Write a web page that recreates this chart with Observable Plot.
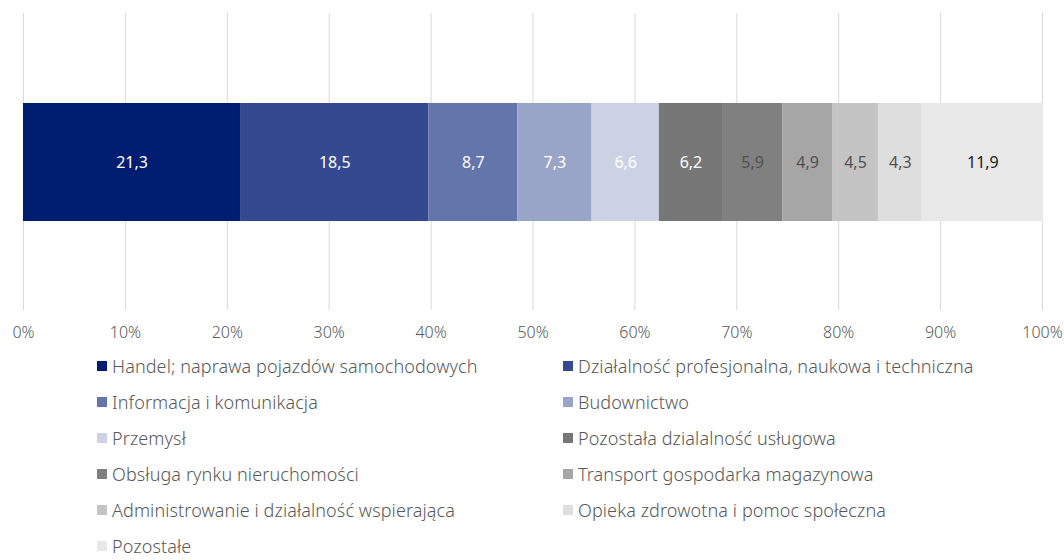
<!DOCTYPE html>
<html>
<head>
<meta charset="utf-8">
<script src="https://cdn.jsdelivr.net/npm/d3@7"></script>
<script src="https://cdn.jsdelivr.net/npm/@observablehq/plot@0.6"></script>
<style>
  html, body { margin: 0; padding: 0; background: #fff; }
  body { width: 1064px; height: 560px; position: relative; overflow: hidden; font-family: "Noto Sans", sans-serif; }
  #chart { position: absolute; left: 0; top: 0; }
  #legend { position: absolute; left: 97px; top: 348px; display: grid; grid-template-columns: 466px 460px; grid-auto-rows: 36px; }
  .item { display: flex; align-items: center; font-size: 18px; line-height: 18px; font-weight: 300; color: #595959; white-space: nowrap; letter-spacing: 0.1px; }
  .sw { width: 10px; height: 10px; margin-right: 5px; flex: none; }
</style>
</head>
<body>
<div id="chart"></div>
<div id="legend"></div>
<script>
const categories = [
  "Handel; naprawa pojazdów samochodowych",
  "Działalność profesjonalna, naukowa i techniczna",
  "Informacja i komunikacja",
  "Budownictwo",
  "Przemysł",
  "Pozostała dzialalność usługowa",
  "Obsługa rynku nieruchomości",
  "Transport gospodarka magazynowa",
  "Administrowanie i działalność wspierająca",
  "Opieka zdrowotna i pomoc społeczna",
  "Pozostałe"
];
const values = [21.3, 18.5, 8.7, 7.3, 6.6, 6.2, 5.9, 4.9, 4.5, 4.3, 11.9];
const colors = ["#001e71", "#334a91", "#6475ab", "#99a5c8", "#ccd2e4", "#777777", "#808080", "#a6a6a6", "#c4c4c4", "#dedede", "#e8e8e8"];
const labelColors = ["#ffffff", "#ffffff", "#ffffff", "#ffffff", "#ffffff", "#ffffff", "#505050", "#505050", "#505050", "#505050", "#1a1a1a"];
const xTicks = [0, 10, 20, 30, 40, 50, 60, 70, 80, 90, 100];

const fmt = v => v.toFixed(1).replace(".", ",");
const data = categories.map((c, i) => ({cat: c, value: values[i], group: "", color: colors[i], lc: labelColors[i]}));

const chart = Plot.plot({
  width: 1064,
  height: 345,
  marginLeft: 23,
  marginRight: 22,
  marginTop: 13,
  marginBottom: 35,
  x: {domain: [0, 100], label: null},
  y: {domain: [""], padding: 0.43, axis: null},
  color: {type: "identity"},
  style: {fontFamily: "'Noto Sans', sans-serif", fontSize: "15px", background: "#fff"},
  marks: [
    Plot.gridX(xTicks, {stroke: "#d9d9d9", strokeOpacity: 1, strokeWidth: 1}),
    Plot.barX(data, Plot.stackX({x: "value", y: "group", fill: "color", order: null})),
    Plot.text(data, Plot.stackX({x: "value", y: "group", order: null, text: d => fmt(d.value), fill: "lc", fontSize: 16, fontWeight: 400})),
    Plot.axisX(xTicks, {tickSize: 0, tickPadding: 16, tickFormat: d => d + "%", fontSize: 16, fill: "#595959", fontWeight: 300, label: null})
  ]
});
document.getElementById("chart").appendChild(chart);

const legend = document.getElementById("legend");
categories.forEach((c, i) => {
  const item = document.createElement("div");
  item.className = "item";
  const sw = document.createElement("span");
  sw.className = "sw";
  sw.style.background = colors[i];
  const t = document.createElement("span");
  t.textContent = c;
  item.appendChild(sw);
  item.appendChild(t);
  legend.appendChild(item);
});
</script>
</body>
</html>
